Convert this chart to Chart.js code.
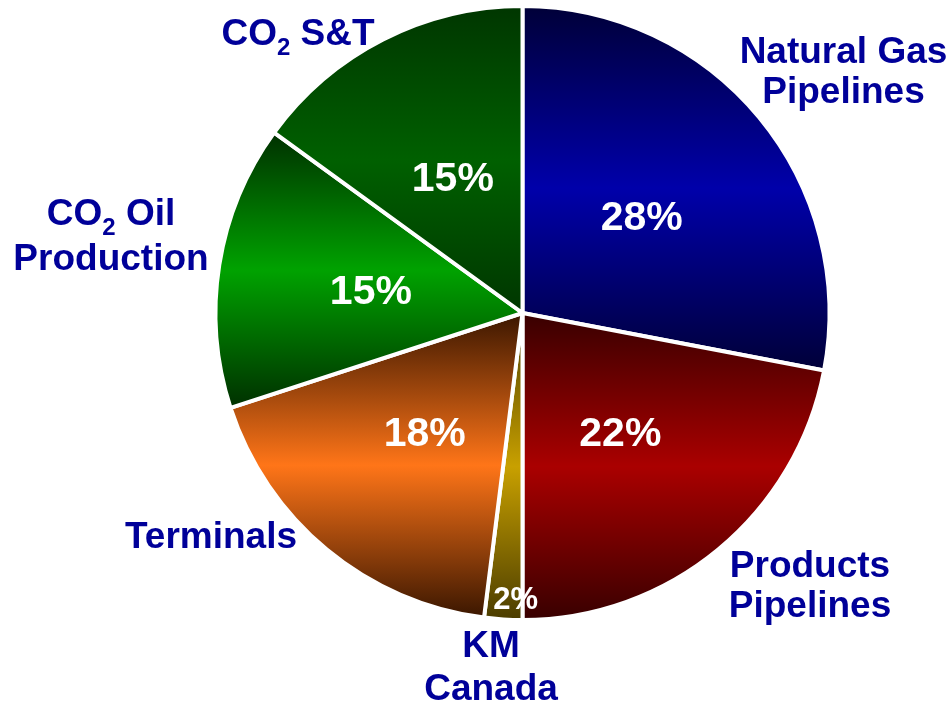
<!DOCTYPE html>
<html><head><meta charset="utf-8">
<script src="https://cdn.jsdelivr.net/npm/chart.js@4/dist/chart.umd.min.js"></script>
<style>html,body{margin:0;padding:0;background:#fff;overflow:hidden}canvas{display:block}</style>
</head><body>
<canvas id="c" width="949" height="705"></canvas>
<script>
// ---- data ----
const categories = ['Natural Gas Pipelines', 'Products Pipelines', 'KM Canada', 'Terminals', 'CO₂ Oil Production', 'CO₂ S&T'];
const categoryLines = [['Natural Gas', 'Pipelines'], ['Products', 'Pipelines'], ['KM', 'Canada'], ['Terminals'], ['CO₂ Oil', 'Production'], ['CO₂ S&T']];
const shares = [28, 22, 2, 18, 15, 15];
const pctLabels = ['28%', '22%', '2%', '18%', '15%', '15%'];

// ---- styles ----
const edgeColors = ['#000038', '#380000', '#4a3c00', '#3a1600', '#003000', '#003600'];
const midColors  = ['#0000aa', '#aa0000', '#c8a000', '#ff7518', '#00a200', '#006000'];
const BORDER = 4;
const FONT = '"Liberation Sans", Arial, Helvetica, sans-serif';
const LABEL_COLOR = '#000099';
const pctSize   = [41, 41, 31, 41, 41, 41];
const pctRadius = [0.5, 0.5, 0.93, 0.5, 0.5, 0.5];
const pctShift  = [[1, 0], [0, 0], [11, 0], [0, 0], [0, 0], [0, 0]];
// category label layout: offset of first line (center x, baseline) from pie center, line step
const catLayout = [
  {dx: 321, dy: -250, step: 40},
  {dx: 287.5, dy: 264, step: 40},
  {dx: -31.5, dy: 344, step: 43},
  {dx: -311.5, dy: 235, step: 40},
  {dx: -411.5, dy: -88, step: 45},
  {dx: -224.5, dy: -268, step: 40}
];

function sliceExtent(chart, i) {
  const ca = chart.chartArea;
  const cy = (ca.top + ca.bottom) / 2;
  const R = (Math.min(ca.width, ca.height) - BORDER) / 2;
  const total = shares.reduce((a, b) => a + b, 0);
  let start = 0;
  for (let k = 0; k < i; k++) start += shares[k];
  const a1 = -Math.PI / 2 + start / total * 2 * Math.PI;
  const a2 = a1 + shares[i] / total * 2 * Math.PI;
  const ys = [cy, cy + R * Math.sin(a1), cy + R * Math.sin(a2)];
  for (const c of [-Math.PI / 2, Math.PI / 2, 3 * Math.PI / 2]) {
    if (c > a1 && c < a2) ys.push(cy + R * Math.sin(c));
  }
  return [Math.min(...ys), Math.max(...ys)];
}

function drawRichLine(ctx, text, cx, baseline) {
  const mainFont = 'bold 37px ' + FONT;
  const subFont = 'bold 24px ' + FONT;
  const parts = [];
  const idx = text.indexOf('₂');
  if (idx >= 0) {
    parts.push({t: text.slice(0, idx), f: mainFont, dy: 0});
    parts.push({t: '2', f: subFont, dy: 10});
    parts.push({t: text.slice(idx + 1), f: mainFont, dy: 0});
  } else {
    parts.push({t: text, f: mainFont, dy: 0});
  }
  let w = 0;
  parts.forEach(p => { ctx.font = p.f; p.w = ctx.measureText(p.t).width; w += p.w; });
  let x = cx - w / 2;
  ctx.textAlign = 'left';
  ctx.textBaseline = 'alphabetic';
  parts.forEach(p => { ctx.font = p.f; ctx.fillText(p.t, x, baseline + p.dy); x += p.w; });
}

const labelPlugin = {
  id: 'sliceLabels',
  afterDatasetsDraw(chart) {
    const ctx = chart.ctx;
    const meta = chart.getDatasetMeta(0);
    ctx.save();
    meta.data.forEach((arc, i) => {
      const p = arc.getProps(['x', 'y', 'startAngle', 'endAngle', 'outerRadius'], true);
      const mid = (p.startAngle + p.endAngle) / 2;
      const r = p.outerRadius * pctRadius[i];
      const px = p.x + Math.cos(mid) * r + pctShift[i][0];
      const py = p.y + Math.sin(mid) * r + pctShift[i][1];
      ctx.font = 'bold ' + pctSize[i] + 'px ' + FONT;
      ctx.fillStyle = '#ffffff';
      ctx.textAlign = 'center';
      ctx.textBaseline = 'alphabetic';
      ctx.fillText(pctLabels[i], px, py + pctSize[i] * 0.716 / 2);
    });
    const a0 = meta.data[0];
    const cx = a0.x, cy = a0.y;
    ctx.fillStyle = LABEL_COLOR;
    categoryLines.forEach((lines, i) => {
      const L = catLayout[i];
      lines.forEach((line, j) => drawRichLine(ctx, line, cx + L.dx, cy + L.dy + j * L.step));
    });
    ctx.restore();
  }
};

new Chart(document.getElementById('c'), {
  type: 'pie',
  data: {
    labels: categories,
    datasets: [{
      data: shares,
      backgroundColor: (c) => {
        const chart = c.chart, i = c.dataIndex;
        if (i === undefined) return '#000';
        if (!chart.chartArea) return midColors[i];
        const [y0, y1] = sliceExtent(chart, i);
        const g = chart.ctx.createLinearGradient(0, y0, 0, y1);
        g.addColorStop(0, edgeColors[i]);
        g.addColorStop(0.5, midColors[i]);
        g.addColorStop(1, edgeColors[i]);
        return g;
      },
      borderColor: '#ffffff',
      borderWidth: BORDER,
      hoverOffset: 0,
      offset: 0
    }]
  },
  options: {
    responsive: false,
    animation: false,
    devicePixelRatio: 1,
    events: [],
    layout: {padding: {top: 4, bottom: 83, left: 213.5, right: 117.5}},
    plugins: {legend: {display: false}, tooltip: {enabled: false}, title: {display: false}}
  },
  plugins: [labelPlugin]
});
</script>
</body></html>
